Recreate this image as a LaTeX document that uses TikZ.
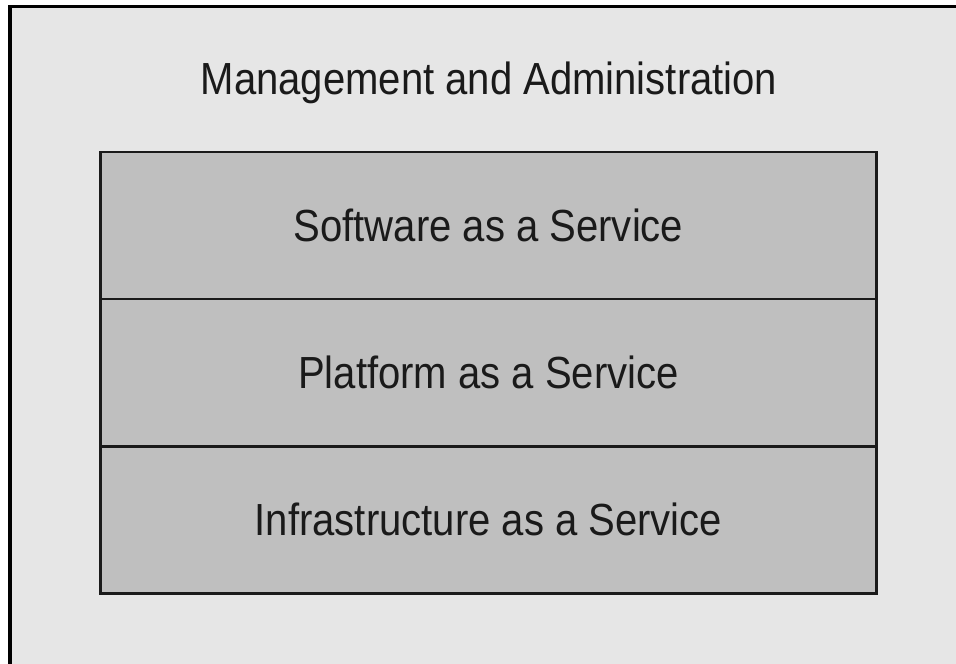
\documentclass[tikz,border=0pt]{standalone}
\usepackage{fontspec}
\setmainfont{Liberation Sans}[FakeStretch=0.89]
\usetikzlibrary{positioning}
\definecolor{panelgray}{HTML}{E6E6E6}
\definecolor{layergray}{HTML}{BFBFBF}
\definecolor{inkgray}{HTML}{1A1A1A}

\begin{document}
\begin{tikzpicture}[x=0.025cm, y=0.025cm, line width=2.1pt,
  layer/.style={draw=inkgray, fill=layergray, text=inkgray,
    minimum width=19.375cm, minimum height=3.675cm,
    outer sep=0pt, inner sep=0pt, font=\fontsize{32}{38}\selectfont}]
  \useasboundingbox (0,0) rectangle (956,-664);
  % panel
  \fill[white] (0,0) rectangle (956,-664);
  \draw[fill=panelgray, line width=2.8pt] (10,-6.5) rectangle (1000,-720);
  \node[text=inkgray, font=\fontsize{32}{38}\selectfont] (mgmt) at (489,-83) {Management and Administration};
  % layers
  \node[layer] (saas) at (488.5,-225.5) {Software as a Service};
  \node[layer, below=0pt of saas] (paas) {Platform as a Service};
  \node[layer, below=0pt of paas] (iaas) {Infrastructure as a Service};
\end{tikzpicture}
\end{document}
